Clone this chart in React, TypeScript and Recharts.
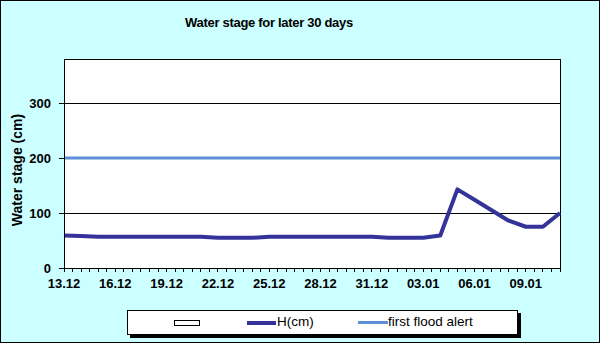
import { LineChart, Line, XAxis, YAxis, CartesianGrid, ReferenceLine } from "recharts";

// daily dates, 13.12 -> 11.01
const dates = [
  "13.12", "14.12", "15.12", "16.12", "17.12", "18.12", "19.12", "20.12", "21.12", "22.12",
  "23.12", "24.12", "25.12", "26.12", "27.12", "28.12", "29.12", "30.12", "31.12", "01.01",
  "02.01", "03.01", "04.01", "05.01", "06.01", "07.01", "08.01", "09.01", "10.01", "11.01",
];

// H(cm)
const waterLevel = [
  59, 58, 57, 57, 57, 57, 57, 57, 57, 55,
  55, 55, 57, 57, 57, 57, 57, 57, 57, 55,
  55, 55, 59, 143, 124, 105, 86, 75, 75, 100,
];

const FIRST_ALERT = 200;

const yTicks = [0, 100, 200, 300];
const Y_MAX = 380;

const seriesNames = ["H(cm)", "first flood alert"];
const seriesColors = ["#333399", "#5b8fd8"];

const FONT = '"Liberation Sans", Arial, sans-serif';

const data = dates.map((d, i) => ({ day: i, date: d, h: waterLevel[i], alert: FIRST_ALERT }));

// ticks every half day, labels every third day
const xTicks: number[] = [];
for (let t = 0; t <= dates.length - 1; t += 0.5) xTicks.push(t);

function DateTick(props: any) {
  const { x, y, payload } = props;
  const v = payload.value;
  if (v % 3 !== 0) return <g />;
  return (
    <text x={x} y={y} dy="0.71em" textAnchor="middle" fill="#000" fontSize={13} fontWeight="bold" fontFamily={FONT}>
      {dates[v]}
    </text>
  );
}

export default function App() {
  return (
    <div
      style={{
        position: "absolute",
        left: 0,
        top: 0,
        width: 600,
        height: 343,
        background: "#ccffff",
        border: "1px solid #000",
        boxSizing: "border-box",
        fontFamily: FONT,
        overflow: "hidden",
      }}
    >
      {/* keep the thin grid / axis lines sharp like the original */}
      <style>{"svg line { shape-rendering: crispEdges; }"}</style>

      <div
        style={{
          position: "absolute",
          left: 0,
          top: 14,
          width: 536,
          textAlign: "center",
          fontSize: 13,
          lineHeight: "15px",
          fontWeight: "bold",
          letterSpacing: -0.3,
        }}
      >
        Water stage for later 30 days
      </div>

      <div
        style={{
          position: "absolute",
          left: 16,
          top: 169,
          transform: "translate(-50%, -50%) rotate(-90deg)",
          whiteSpace: "nowrap",
          fontSize: 14,
          fontWeight: "bold",
        }}
      >
        Water stage (cm)
      </div>

      <div style={{ position: "absolute", left: -1, top: -1 }}>
        <LineChart width={600} height={343} data={data} margin={{ top: 59, right: 40, left: 0, bottom: 45 }}>
          <CartesianGrid vertical={false} stroke="#000" fill="#fff" fillOpacity={1} />
          <XAxis
            dataKey="day"
            type="number"
            domain={[0, dates.length - 1]}
            ticks={xTicks}
            interval={0}
            height={30}
            tickSize={4}
            tickMargin={7}
            stroke="#000"
            tickLine={{ stroke: "#000" }}
            tick={<DateTick />}
          />
          <YAxis
            type="number"
            domain={[0, Y_MAX]}
            ticks={yTicks}
            interval={0}
            width={64}
            tickSize={5}
            tickMargin={8}
            stroke="#000"
            tickLine={{ stroke: "#000" }}
            tick={{ fill: "#000", fontSize: 13, fontWeight: "bold", fontFamily: FONT }}
          />
          <ReferenceLine y={Y_MAX} stroke="#000" />
          <ReferenceLine x={dates.length - 1} stroke="#000" />
          <Line
            dataKey="alert"
            name={seriesNames[1]}
            stroke={seriesColors[1]}
            strokeWidth={3}
            dot={false}
            isAnimationActive={false}
          />
          <Line
            dataKey="h"
            name={seriesNames[0]}
            stroke={seriesColors[0]}
            strokeWidth={4}
            strokeLinejoin="round"
            dot={false}
            isAnimationActive={false}
          />
        </LineChart>
      </div>

      {/* legend */}
      <div
        style={{
          position: "absolute",
          left: 126,
          top: 309,
          width: 391,
          height: 25,
          background: "#fff",
          border: "1px solid #000",
          boxSizing: "border-box",
          boxShadow: "3px 3px 0 #000",
          fontSize: 13.5,
        }}
      >
        <div
          style={{
            position: "absolute",
            left: 46,
            top: 9,
            width: 26,
            height: 6,
            border: "1px solid #000",
            boxSizing: "border-box",
          }}
        />
        <div style={{ position: "absolute", left: 119, top: 10, width: 29, height: 4, background: seriesColors[0] }} />
        <div style={{ position: "absolute", left: 149, top: 3, lineHeight: "16px" }}>{seriesNames[0]}</div>
        <div style={{ position: "absolute", left: 230, top: 10, width: 30, height: 3, background: seriesColors[1] }} />
        <div style={{ position: "absolute", left: 260, top: 3, lineHeight: "16px" }}>{seriesNames[1]}</div>
      </div>
    </div>
  );
}
